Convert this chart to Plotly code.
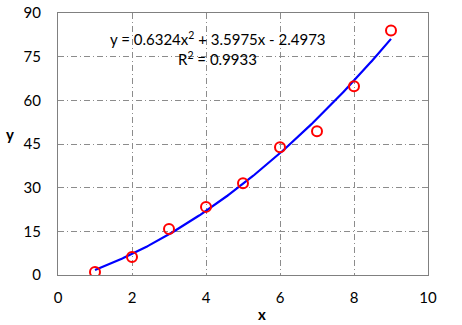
import numpy as np
import plotly.graph_objects as go

x_data = [1, 2, 3, 4, 5, 6, 7, 8, 9]
y_data = [1.0, 6.2, 15.8, 23.4, 31.5, 43.9, 49.4, 64.8, 84.0]
coef = [0.6324, 3.5975, -2.4973]  # trendline a*x^2 + b*x + c
x_ticks = [0, 2, 4, 6, 8, 10]
y_ticks = [0, 15, 30, 45, 60, 75, 90]
eq_text = "y = 0.6324x<sup>2</sup> + 3.5975x - 2.4973"
r2_text = "R<sup>2</sup> = 0.9933"

xf = np.linspace(min(x_data), max(x_data), 200)
yf = np.polyval(coef, xf)

font = "Lato, 'Open Sans', sans-serif"
fig = go.Figure()
fig.add_trace(go.Scatter(x=xf, y=yf, mode="lines",
                         line=dict(color="#0000ff", width=2.2), hoverinfo="skip"))
fig.add_trace(go.Scatter(x=x_data, y=y_data, mode="markers",
                         marker=dict(symbol="circle-open", size=10, color="#ff0000",
                                     line=dict(width=2, color="#ff0000"))))

W, H = 462, 325
L, R, T, B = 57.5, 34, 12.5, 50
grid = dict(showgrid=True, gridcolor="#8c8c8c", gridwidth=1, griddash="6px,3px,1px,3px",
            showline=True, linecolor="#808080", linewidth=1.3, mirror=True,
            zeroline=False, ticks="", automargin=False,
            tickfont=dict(family=font, size=15, color="#000"))
fig.update_xaxes(range=[0, 10], tickvals=x_ticks, ticklabelstandoff=9, **grid)
fig.update_yaxes(range=[0, 90], tickvals=y_ticks, ticklabelstandoff=13, **grid)

pw, ph = W - L - R, H - T - B
def px(xp):
    return (xp - L) / pw
def py(yp):
    return (H - B - yp) / ph

def label(xp, yp, text, yanchor="middle"):
    fig.add_annotation(x=px(xp), y=py(yp), xref="paper", yref="paper", text=text,
                       xanchor="center", yanchor=yanchor, showarrow=False,
                       font=dict(family=font, size=15, color="#000"))

label(218, 38, eq_text)
label(217, 58, r2_text)
label(9, 134, "<b>y</b>")
label(262, 325, "<b>x</b>", yanchor="bottom")

fig.update_layout(width=W, height=H, showlegend=False,
                  margin=dict(l=L, r=R, t=T, b=B),
                  plot_bgcolor="white", paper_bgcolor="white")
fig.write_html("out.html")
